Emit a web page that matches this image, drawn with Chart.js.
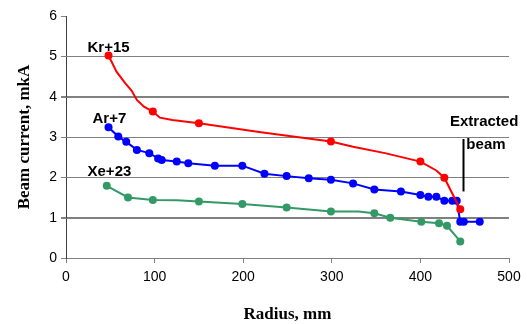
<!DOCTYPE html>
<html>
<head>
<meta charset="utf-8">
<script src="https://cdn.jsdelivr.net/npm/chart.js@4.4.1/dist/chart.umd.min.js"></script>
<style>
  html, body { margin: 0; padding: 0; background: #fff; }
  #wrap { width: 527px; height: 324px; position: relative; }
</style>
</head>
<body>
<div id="wrap"><canvas id="chart"></canvas></div>
<script>
/* Kr+15 : markers only on measured points, the rest shapes the curve */
const krRadius = [48, 57, 67, 74, 80, 88, 98, 106, 120, 150, 220, 299, 324, 360, 400, 418, 427, 445];
const krCurrent = [5.02, 4.62, 4.33, 4.15, 3.92, 3.75, 3.63, 3.48, 3.42, 3.34, 3.12, 2.89, 2.76, 2.60, 2.39, 2.17, 1.99, 1.21];
const krMarked = [1, 0, 0, 0, 0, 0, 1, 0, 0, 1, 0, 1, 0, 0, 1, 0, 1, 1];

/* Ar+7 */
const arRadius = [48, 59, 68, 80, 94, 104, 108, 125, 138, 168, 199, 224, 249, 274, 299, 324, 348, 378, 400, 409, 418, 427, 436, 441, 445, 449, 467];
const arCurrent = [3.24, 3.01, 2.88, 2.68, 2.60, 2.47, 2.43, 2.39, 2.35, 2.29, 2.29, 2.09, 2.03, 1.98, 1.94, 1.85, 1.70, 1.65, 1.56, 1.52, 1.52, 1.42, 1.42, 1.42, 0.90, 0.90, 0.90];
const arMarked = arRadius.map(() => 1);

/* Xe+23 */
const xeRadius = [46, 70, 98, 125, 150, 199, 249, 299, 330, 348, 366, 401, 421, 430, 445];
const xeCurrent = [1.79, 1.50, 1.44, 1.43, 1.40, 1.34, 1.25, 1.15, 1.15, 1.11, 1.00, 0.90, 0.86, 0.80, 0.41];
const xeMarked = [1, 1, 1, 0, 1, 1, 1, 1, 0, 1, 1, 1, 1, 1, 1];

/* labels on the plot, in data units */
const seriesLabels = [
  { text: "Kr+15", x: 48, y: 5.2 },
  { text: "Ar+7", x: 49, y: 3.45 },
  { text: "Xe+23", x: 49, y: 2.14 },
  { text: "Extracted", x: 472, y: 3.37 },
  { text: "beam", x: 474, y: 2.81 }
];
const extractLine = { x: 448, from: 2.95, to: 1.65 };

/* y grid: lines at 0..5, none at the top */
const yGridColors = ["#808080", "#808080", "#808080", "#808080", "#808080", "#808080", "rgba(0,0,0,0)"];

function toPoints(xs, ys) {
  return xs.map((x, i) => ({ x, y: ys[i] }));
}

/* horizontal grid from the y scale ticks, under the lines */
const gridPlugin = {
  id: "hGrid",
  beforeDatasetsDraw(chart) {
    const g = chart.ctx;
    const area = chart.chartArea;
    const sy = chart.scales.y;
    g.save();
    g.strokeStyle = "#808080";
    g.lineWidth = 1;
    g.setLineDash([]);
    sy.ticks.forEach(t => {
      const py = Math.round(sy.getPixelForValue(t.value)) + 0.5;
      const right = (t.value > sy.min && t.value < sy.max) ? area.right : area.left;
      g.beginPath();
      g.moveTo(area.left - 5, py);
      g.lineTo(right, py);
      g.stroke();
    });
    g.restore();
  }
};

const labelPlugin = {
  id: "seriesText",
  afterDraw(chart) {
    const g = chart.ctx;
    const sx = chart.scales.x;
    const sy = chart.scales.y;
    g.save();
    g.fillStyle = "#000";
    g.font = "bold 15px 'Liberation Sans', Arial, sans-serif";
    g.textAlign = "center";
    g.textBaseline = "middle";
    seriesLabels.forEach(l => {
      g.fillText(l.text, sx.getPixelForValue(l.x), sy.getPixelForValue(l.y));
    });
    const lx = Math.round(sx.getPixelForValue(extractLine.x)) + 0.5;
    g.strokeStyle = "#000";
    g.lineWidth = 2;
    g.beginPath();
    g.moveTo(lx, sy.getPixelForValue(extractLine.from));
    g.lineTo(lx, sy.getPixelForValue(extractLine.to));
    g.stroke();
    g.restore();
  }
};

function series(xs, ys, marked, color) {
  return {
    data: toPoints(xs, ys),
    borderColor: color,
    backgroundColor: color,
    borderWidth: 2,
    showLine: true,
    fill: false,
    tension: 0,
    pointRadius: marked.map(m => m ? 4 : 0),
    pointBorderWidth: 0
  };
}

new Chart(document.getElementById("chart"), {
  type: "scatter",
  data: {
    datasets: [
      series(krRadius, krCurrent, krMarked, "#ff0000"),
      series(arRadius, arCurrent, arMarked, "#0000ff"),
      series(xeRadius, xeCurrent, xeMarked, "#339966")
    ]
  },
  options: {
    responsive: true,
    maintainAspectRatio: false,
    animation: false,
    layout: { padding: { top: 16, right: 18, left: 0, bottom: 0 } },
    plugins: { legend: { display: false }, tooltip: { enabled: false } },
    scales: {
      x: {
        type: "linear",
        min: 0,
        max: 500,
        afterFit(s) { s.height = 66; },
        ticks: { stepSize: 100, color: "#000", padding: 6, font: { family: "'Liberation Sans', Arial, sans-serif", size: 14 } },
        grid: { drawOnChartArea: false, drawTicks: true, tickLength: 5, color: "#808080" },
        border: { color: "#808080", width: 1 },
        title: {
          display: true,
          text: "Radius, mm",
          color: "#000",
          padding: { top: 0, bottom: 0 },
          font: { family: "'Liberation Serif', 'Times New Roman', serif", size: 17, weight: "bold", lineHeight: 1.1 }
        }
      },
      y: {
        type: "linear",
        min: 0,
        max: 6,
        afterFit(s) { s.width = 66; },
        ticks: { stepSize: 1, color: "#000", padding: 4, font: { family: "'Liberation Sans', Arial, sans-serif", size: 14 } },
        grid: { display: true, drawOnChartArea: true, drawTicks: true, tickLength: 5, lineWidth: 1, color: yGridColors, tickColor: "#808080" },
        border: { display: true, color: "#404040", width: 1 },
        title: {
          display: true,
          text: "Beam current, mkA",
          color: "#000",
          padding: { top: 14, bottom: 0 },
          font: { family: "'Liberation Serif', 'Times New Roman', serif", size: 17, weight: "bold" }
        }
      }
    }
  },
  plugins: [gridPlugin, labelPlugin]
});
</script>
</body>
</html>
